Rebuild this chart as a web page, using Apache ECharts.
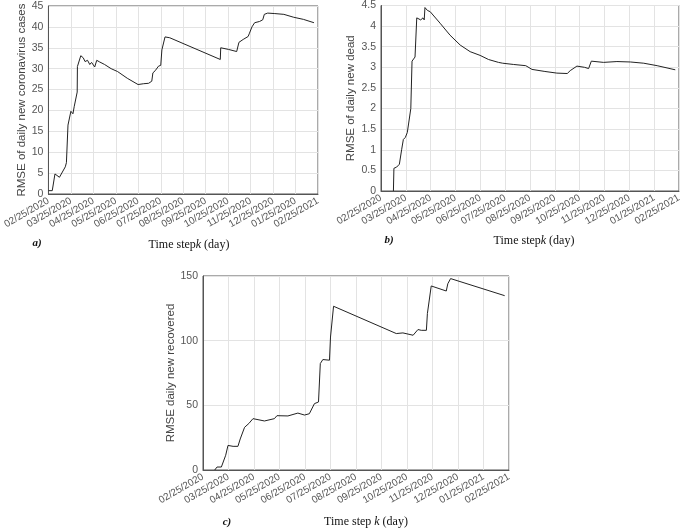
<!DOCTYPE html>
<html>
<head>
<meta charset="utf-8">
<script src="https://cdn.jsdelivr.net/npm/echarts@6/dist/echarts.min.js"></script>
<style>html,body{margin:0;padding:0;background:#fff}#c{width:685px;height:529px}</style>
</head>
<body>
<div id="c"></div>
<script>
// x positions are months since 02/25/2020
var tickLabelsA = ["02/25/2020","03/25/2020","04/25/2020","05/25/2020","06/25/2020","07/25/2020","08/25/2020","09/25/2020","10/25/2020","11/25/2020","12/25/2020","01/25/2020","02/25/2021"];
var tickLabelsBC = ["02/25/2020","03/25/2020","04/25/2020","05/25/2020","06/25/2020","07/25/2020","08/25/2020","09/25/2020","10/25/2020","11/25/2020","12/25/2020","01/25/2021","02/25/2021"];

var monthsA = [0,0.17,0.25,0.27,0.29,0.49,0.75,0.8,0.87,0.93,1.0,1.09,1.15,1.23,1.28,1.29,1.36,1.44,1.55,1.63,1.74,1.84,1.92,2.06,2.15,2.28,2.5,2.79,3.08,3.51,3.99,4.24,4.46,4.6,4.65,4.75,4.9,5.0,5.05,5.19,5.4,7.65,7.67,7.72,8.02,8.38,8.48,8.67,8.89,8.95,9.06,9.18,9.4,9.54,9.61,9.76,9.83,10.05,10.48,10.92,11.35,11.82];
var casesRMSE = [0.8,0.8,1.0,1.0,4.8,4.0,6.5,7.5,16.5,16.3,19.8,19.2,21,21,24.4,30.5,30.5,33.1,32.6,31.7,32,31,31.5,30.4,32,31.6,31,30,29.3,27.7,26.2,26.4,26.5,27,29,29.5,30.6,30.8,34.5,37.6,37.4,32.2,35.0,34.6,34.6,34.1,36.3,37,37.7,38.5,40,41,41.3,41.7,43,43.3,43.6,43.2,43,42.3,41.8,41];

var monthsB = [0.5,0.52,0.63,0.74,0.83,0.9,0.98,1.06,1.13,1.2,1.25,1.37,1.44,1.52,1.6,1.69,1.74,1.77,1.87,1.98,2.38,2.78,3.19,3.59,3.99,4.33,4.73,4.9,5.33,5.83,6.08,6.6,7.08,7.5,7.62,7.7,7.89,8.2,8.36,8.47,8.96,9.5,10.04,10.58,11.12,11.85];
var deadRMSE = [0,0.55,0.58,0.65,1.0,1.25,1.3,1.42,1.45,2.0,3.15,3.25,4.2,4.2,4.15,4.2,4.15,4.45,4.38,4.35,4.07,3.78,3.54,3.38,3.29,3.19,3.12,3.1,3.07,3.04,2.95,2.9,2.86,2.85,2.92,2.9,3.03,3.0,2.97,3.15,3.12,3.14,3.13,3.1,3.04,2.94];

var monthsC = [0.46,0.55,0.72,0.89,0.98,1.18,1.37,1.46,1.63,1.8,1.96,2.41,2.8,2.9,3.33,3.72,3.98,4.17,4.37,4.53,4.6,4.7,4.96,5.0,5.12,7.58,7.84,8.24,8.43,8.56,8.76,8.8,8.86,8.95,9.54,9.6,9.71,11.83];
var recoveredRMSE = [0,2.3,2.3,11.4,19,18.3,18.3,24,33,36,39.7,37.9,39.7,42,41.8,44,42.5,43.5,51.3,52.6,82.3,85.4,84.9,102.8,126.6,105.5,106,104.2,108.6,108,108,121,122,142.3,138.4,144,148,134.8];

function pairs(xs, ys){ return xs.map(function(x,i){ return [x, ys[i]]; }); }

var chart = echarts.init(document.getElementById('c'), null, {renderer:'canvas'});
var sans = 'Liberation Sans, Arial, sans-serif';
var serif = 'Liberation Serif, Times New Roman, serif';
var gridStyle = {show:true, borderColor:'#555', borderWidth:1, backgroundColor:'transparent'};

function xAxis(idx, labels){
  return {type:'value', gridIndex:idx, min:0, max:12, interval:1,
    axisLine:{show:true, onZero:false, lineStyle:{color:'#555'}},
    axisTick:{show:false},
    splitLine:{show:true, lineStyle:{color:'#e3e3e3', width:1}},
    axisLabel:{rotate:30, margin:6, fontSize:10, color:'#555', fontFamily:sans,
      formatter:function(v){ return labels[Math.round(v)]; }}};
}
function yAxis(idx, max, interval, name, gap){
  return {type:'value', gridIndex:idx, min:0, max:max, interval:interval,
    axisLine:{show:true, lineStyle:{color:'#555'}},
    axisTick:{show:false},
    splitLine:{show:true, lineStyle:{color:'#e3e3e3', width:1}},
    axisLabel:{margin:5, fontSize:10.5, color:'#555', fontFamily:sans},
    name:name, nameLocation:'middle', nameGap:gap,
    nameTextStyle:{fontSize:11.5, color:'#444', fontFamily:sans}};
}
function line(idx, data){
  return {type:'line', xAxisIndex:idx, yAxisIndex:idx, data:data, showSymbol:false,
    lineStyle:{color:'#222', width:1}, animation:false};
}
function txt(x, y, text, extra){
  var s = {text:text, x:x, y:y, textAlign:'center', textVerticalAlign:'middle', fill:'#111',
    font:'12px ' + serif,
    rich:{i:{fontStyle:'italic', fontSize:12, fontFamily:serif, fill:'#111'}, n:{fontSize:12, fontFamily:serif, fill:'#111'}}};
  for (var k in extra) s[k] = extra[k];
  return {type:'text', style:s, silent:true};
}

chart.setOption({
  animation:false,
  backgroundColor:'#fff',
  grid:[
    Object.assign({left:43, top:6, width:275, height:188}, gridStyle),
    Object.assign({left:381, top:5, width:298, height:186}, gridStyle),
    Object.assign({left:203, top:276, width:306, height:194}, gridStyle)
  ],
  xAxis:[xAxis(0, tickLabelsA), xAxis(1, tickLabelsBC), xAxis(2, tickLabelsBC)],
  yAxis:[
    yAxis(0, 45, 5, 'RMSE of daily new coronavirus cases', 18),
    yAxis(1, 4.5, 0.5, 'RMSE of daily new dead', 24),
    yAxis(2, 150, 50, 'RMSE daily new recovered', 24)
  ],
  series:[
    line(0, pairs(monthsA, casesRMSE)),
    line(1, pairs(monthsB, deadRMSE)),
    line(2, pairs(monthsC, recoveredRMSE))
  ],
  graphic:[
    txt(189, 245, '{n|Time step}{i|k}{n| (day)}'),
    txt(534, 241, '{n|Time step}{i|k}{n| (day)}'),
    txt(366, 522, '{n|Time step }{i|k}{n| (day)}'),
    txt(37, 243, 'a)', {font:'italic bold 11px ' + serif}),
    txt(389, 240, 'b)', {font:'italic bold 11px ' + serif}),
    txt(227, 522, 'c)', {font:'italic bold 11px ' + serif})
  ]
});
</script>
</body>
</html>
